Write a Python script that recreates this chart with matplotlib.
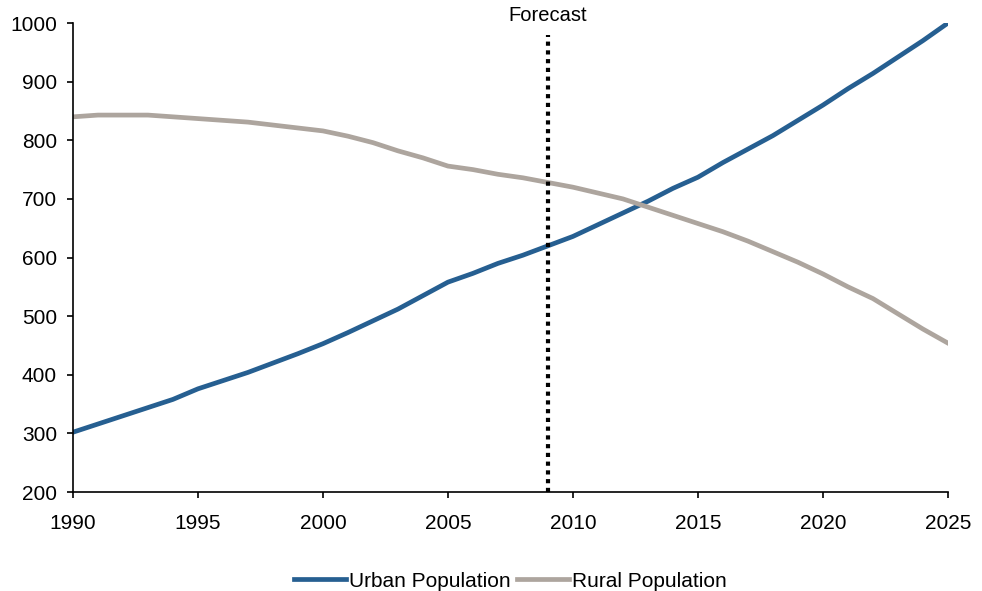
import numpy as np
import matplotlib.pyplot as plt

plt.rcParams['font.family'] = ['Liberation Sans', 'DejaVu Sans']

years = np.arange(1990, 2026)
urban = [302, 316, 330, 344, 358, 376, 390, 404, 420, 436,
         453, 472, 492, 512, 535, 558, 573, 590, 604, 620,
         636, 656, 676, 696, 718, 737, 762, 785, 808, 834,
         860, 888, 914, 942, 970, 1000]
rural = [840, 843, 843, 843, 840, 837, 834, 831, 826, 821,
         816, 807, 796, 782, 770, 756, 750, 742, 736, 728,
         720, 710, 700, 686, 672, 658, 644, 628, 610, 592,
         572, 550, 530, 504, 478, 454]
forecast_year = 2009

fig = plt.figure(figsize=(9.82, 5.91), dpi=100)
ax = fig.add_axes([0.0743, 0.1675, 0.891, 0.7935])

ax.plot(years, urban, color='#265F91', lw=3.4, label='Urban Population')
ax.plot(years, rural, color='#ADA59E', lw=3.4, label='Rural Population')

# forecast marker
ax.plot([forecast_year, forecast_year], [200, 980], color='black', lw=3,
        linestyle=(0, (1, 1.1)))
ax.text(forecast_year, 1003, 'Forecast', ha='center', va='baseline', fontsize=14.5)

ax.set_xlim(1990, 2025)
ax.set_ylim(200, 1000)
ax.set_xticks(range(1990, 2026, 5))
ax.set_yticks(range(200, 1001, 100))
ax.tick_params(labelsize=15, direction='out', length=4.5, width=1.2, colors='black')
ax.tick_params(axis='y', pad=7)
ax.tick_params(axis='x', pad=11)
for s in ['top', 'right']:
    ax.spines[s].set_visible(False)
for s in ['left', 'bottom']:
    ax.spines[s].set_linewidth(1.2)
    ax.spines[s].set_color('black')

ax.legend(loc='center', bbox_to_anchor=(0.5, -0.19), ncol=2, frameon=False,
          fontsize=15, handlelength=2.5, handletextpad=0.15, columnspacing=0.3)

fig.savefig('out.png', dpi=100)
